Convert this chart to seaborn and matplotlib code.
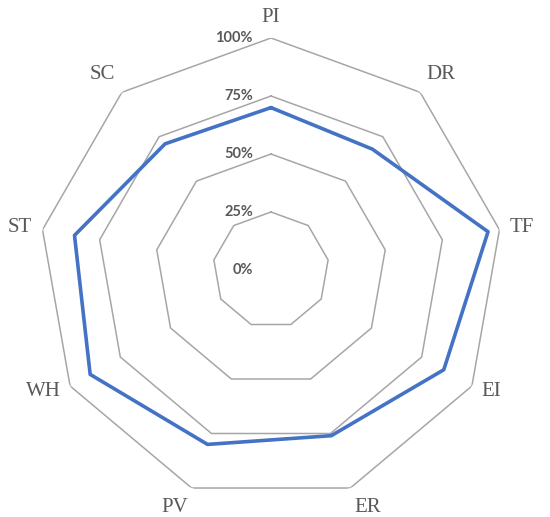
import numpy as np
import matplotlib
matplotlib.use("Agg")
import matplotlib.pyplot as plt
import seaborn as sns

# category order clockwise from the top
categories = ["PI", "DR", "TF", "EI", "ER", "PV", "WH", "ST", "SC"]
scores = [0.70, 0.68, 0.95, 0.86, 0.76, 0.80, 0.90, 0.86, 0.71]
levels = [0.25, 0.50, 0.75, 1.00]
level_labels = ["0%", "25%", "50%", "75%", "100%"]

sns.set_style("white")
plt.rcParams["font.family"] = ["Liberation Serif", "DejaVu Serif"]

n = len(categories)
theta = np.linspace(0, 2 * np.pi, n, endpoint=False)
theta_closed = np.append(theta, theta[0])
scores_closed = np.append(scores, scores[0])

fig = plt.figure(figsize=(5.5, 5.17), dpi=100)
ax = fig.add_axes([0.0709, 0.029, 0.8436, 0.8975], projection="polar")
ax.set_theta_zero_location("N")
ax.set_theta_direction(-1)
ax.set_ylim(0, 1)
ax.grid(False)
ax.spines["polar"].set_visible(False)
ax.set_xticks([])
ax.set_yticks([])
ax.set_facecolor("none")

# polygon gridlines
for lvl in levels:
    ax.plot(theta_closed, [lvl] * (n + 1), color="#A6A6A6", lw=1.1, zorder=1)

sns.lineplot(x=theta_closed, y=scores_closed, sort=False, estimator=None,
             color="#4472C4", lw=2.6, ax=ax, zorder=3)

# value labels left of the top axis
for lvl, lab in zip([0.0] + levels, level_labels):
    ax.annotate(lab, xy=(0, lvl), xytext=(-13, 0), textcoords="offset points",
                ha="right", va="center", fontsize=10.5, fontweight="bold",
                family=["Lato", "DejaVu Sans"], color="#595959")

# category labels outside the outer polygon
for t, cat in zip(theta, categories):
    s, c = np.sin(t), np.cos(t)
    ha = "left" if s > 0.1 else ("right" if s < -0.1 else "center")
    va = "bottom" if c > 0.6 else ("top" if c < -0.6 else "center")
    d = 8 if abs(s) < 0.1 else 7.5
    ax.annotate(cat, xy=(t, 1.0), xytext=(d * s, d * c), textcoords="offset points",
                ha=ha, va=va, fontsize=15, color="#595959")

fig.savefig("out.png", dpi=100)
